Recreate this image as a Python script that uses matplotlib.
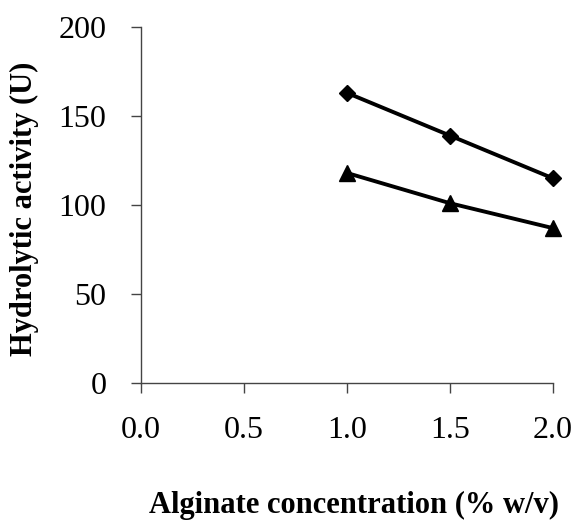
import matplotlib
matplotlib.use("Agg")
import matplotlib.pyplot as plt

concentration = [1.0, 1.5, 2.0]
series_diamond = [163, 139, 115]
series_triangle = [118, 101, 87]
x_ticks = [0.0, 0.5, 1.0, 1.5, 2.0]
x_tick_labels = ["0.0", "0.5", "1.0", "1.5", "2.0"]
y_ticks = [0, 50, 100, 150, 200]

plt.rcParams['font.family'] = ['Liberation Serif', 'DejaVu Serif']

fig = plt.figure(figsize=(5.75, 5.2), dpi=100)
ax = fig.add_axes([0.2452, 0.2635, 0.9617 - 0.2452, 0.948 - 0.2635])

ax.plot(concentration, series_diamond, color='black', lw=2.8, marker='D', ms=8.5,
        clip_on=False, zorder=3)
ax.plot(concentration, series_triangle, color='black', lw=2.8, marker='^', ms=12,
        clip_on=False, zorder=3)

ax.set_xlim(0, 2.0)
ax.set_ylim(0, 200)
ax.set_xticks(x_ticks)
ax.set_xticklabels(x_tick_labels)
ax.set_yticks(y_ticks)

for s in ['top', 'right']:
    ax.spines[s].set_visible(False)
for s in ['left', 'bottom']:
    ax.spines[s].set_linewidth(1.0)
    ax.spines[s].set_color('#444444')

ax.tick_params(axis='both', direction='out', length=7, width=1.0, color='#444444',
               labelsize=23)
ax.tick_params(axis='x', pad=17)
ax.tick_params(axis='y', pad=18)

ax.set_xlabel("Alginate concentration (% w/v)", fontsize=22, fontweight='bold', va='center')
ax.xaxis.set_label_coords(0.517, -0.343)
ax.set_ylabel("Hydrolytic activity (U)", fontsize=22, fontweight='bold', va='center')
ax.yaxis.set_label_coords(-0.282, 0.49)

fig.savefig("out.png", dpi=100)
